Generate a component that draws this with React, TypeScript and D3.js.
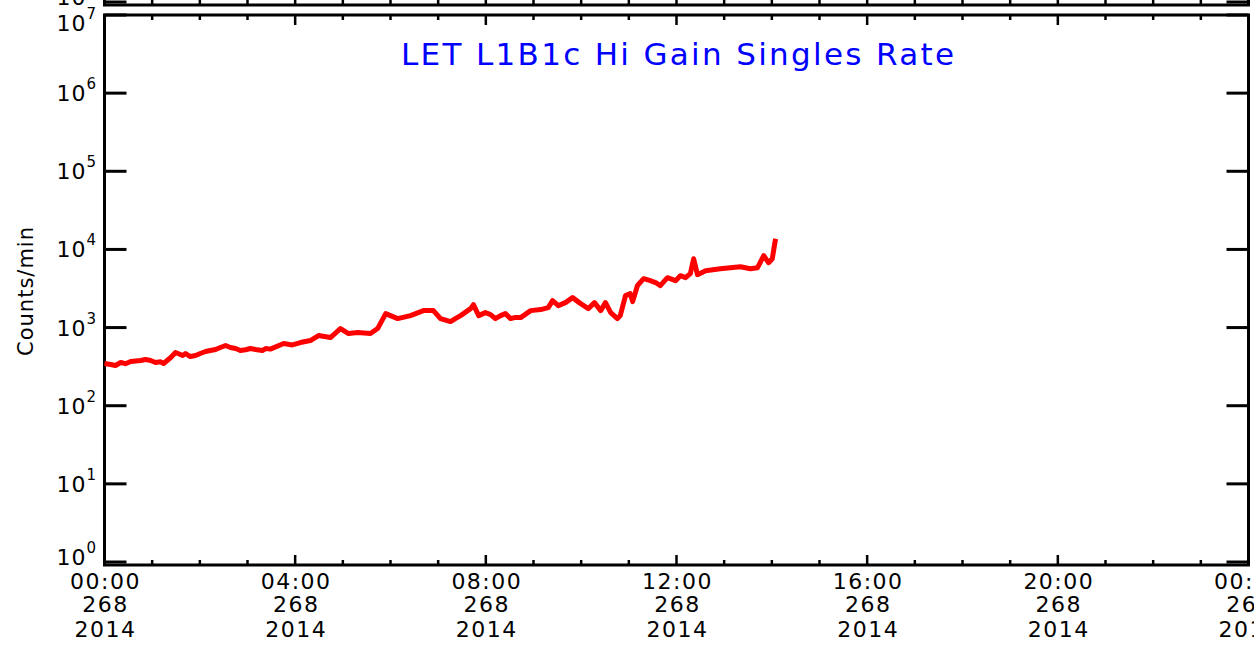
import React from 'react';
import * as d3 from 'd3';

// LET L1B1c hi gain singles, day 268 of 2014 (hours since 00:00, counts/min)
const hours = [
  0, 0.13, 0.23, 0.34, 0.44, 0.55, 0.76, 0.86, 0.97, 1.07, 1.18, 1.24, 1.39, 1.49, 1.64, 1.7,
  1.8, 1.91, 2.01, 2.12, 2.22, 2.33, 2.43, 2.54, 2.64, 2.75, 2.85, 2.96, 3.06, 3.17, 3.31,
  3.38, 3.48, 3.76, 3.94, 4.11, 4.32, 4.49, 4.74, 4.95, 5.12, 5.31, 5.58, 5.73, 5.9, 6.15,
  6.42, 6.69, 6.9, 7.05, 7.26, 7.36, 7.47, 7.68, 7.74, 7.85, 7.99, 8.1, 8.2, 8.31, 8.41,
  8.52, 8.62, 8.73, 8.94, 9.15, 9.31, 9.4, 9.52, 9.67, 9.82, 9.99, 10.15, 10.28, 10.41,
  10.51, 10.62, 10.76, 10.82, 10.93, 11.03, 11.08, 11.18, 11.31, 11.45, 11.56, 11.66, 11.81,
  11.98, 12.08, 12.19, 12.29, 12.36, 12.44, 12.61, 12.92, 13.34, 13.55, 13.7, 13.83, 13.93,
  14.01, 14.06, 14.08,
];
const rates = [
  347, 337, 327, 357, 345, 368, 379, 390, 379, 357, 365, 347, 414, 480, 439, 466,
  426, 439, 466, 494, 508, 524, 555, 589, 555, 539, 508, 520, 539, 524, 508,
  539, 530, 625, 600, 643, 682, 791, 745, 971, 838, 863, 838, 971, 1510, 1303,
  1423, 1648, 1648, 1303, 1193, 1303, 1423, 1749, 1967, 1423, 1554, 1466, 1303, 1423, 1510,
  1303, 1350, 1342, 1648, 1698, 1800, 2213, 1910, 2085, 2416, 2025, 1749, 2085, 1648,
  2085, 1550, 1300, 1423, 2563, 2718, 2148, 3438, 4224, 3983, 3770, 3438, 4350,
  3983, 4610, 4350, 4895, 7606, 4753, 5346, 5669, 6012, 5669, 5837, 8310, 6761,
  7606, 11820, 13700,
];

const majorHours = [0, 4, 8, 12, 16, 20, 24];
const minorHours = d3.range(0, 25);
const hourLabels = ['00:00', '04:00', '08:00', '12:00', '16:00', '20:00', '00:00'];
const dayLabels = ['268', '268', '268', '268', '268', '268', '269'];
const yearLabels = ['2014', '2014', '2014', '2014', '2014', '2014', '2014'];
const decades = [0, 1, 2, 3, 4, 5, 6, 7];

const title = 'LET L1B1c Hi Gain Singles Rate';
const yTitle = 'Counts/min';

const W = 1254;
const H = 645;
const left = 104.5;
const right = 1248.5;
const top = 15;
const bottom = 562;
const frameBottom = 565;
const FONT = 'DejaVu Sans, sans-serif';

const x = d3.scaleLinear().domain([0, 24]).range([left, right]);
const y = d3.scaleLog().domain([1, 1e7]).range([bottom, top]);

const Panel: React.FC<{ dy: number; full: boolean }> = ({ dy, full }) => {
  const pts = hours.map((h, i) => [h, rates[i]] as [number, number]);
  const line = d3.line<[number, number]>()
    .x(d => x(d[0]))
    .y(d => y(d[1]));

  // the panel above only shows its bottom edge, so only its lowest label
  const labelled = full ? decades : [0];

  return (
    <g transform={`translate(0,${dy})`}>
      {/* frame */}
      <rect x={left} y={top} width={right - left} height={frameBottom - top}
        fill="none" stroke="#000" strokeWidth={3} />

      {/* x ticks, bottom and top */}
      {minorHours.map(h => {
        const len = majorHours.includes(h) ? 10 : 5;
        return (
          <g key={`xt${h}`} stroke="#000" strokeWidth={2.5}>
            <line x1={x(h)} x2={x(h)} y1={frameBottom} y2={frameBottom - len} />
            <line x1={x(h)} x2={x(h)} y1={top} y2={top + len} />
          </g>
        );
      })}

      {/* y ticks, both sides */}
      {decades.map(k => (
        <g key={`yt${k}`} stroke="#000" strokeWidth={3}>
          <line x1={left} x2={left + 22} y1={y(10 ** k)} y2={y(10 ** k)} />
          <line x1={right - 22} x2={right} y1={y(10 ** k)} y2={y(10 ** k)} />
        </g>
      ))}

      {/* y labels, kept inside the axis range */}
      {labelled.map(k => {
        const cy = Math.min(Math.max(y(10 ** k), top + 8), frameBottom - 8);
        return (
          <text key={`yl${k}`} x={96} y={cy + 8} textAnchor="end"
            fontFamily={FONT} fontSize={22} fill="#000">
            <tspan letterSpacing={1}>10</tspan>
            <tspan dy={-12} fontSize={15}>{k}</tspan>
          </text>
        );
      })}

      {full && (
        <>
          {majorHours.map((h, i) => (
            <g key={`xl${i}`} fontFamily={FONT} fontSize={22} fill="#000"
              textAnchor="middle" letterSpacing={1.5}>
              <text x={x(h) + 1} y={589}>{hourLabels[i]}</text>
              <text x={x(h) + 1} y={612}>{dayLabels[i]}</text>
              <text x={x(h) + 1} y={637}>{yearLabels[i]}</text>
            </g>
          ))}

          <text transform={`translate(33,291) rotate(-90)`} textAnchor="middle"
            fontFamily={FONT} fontSize={21} letterSpacing={1} fill="#000">
            {yTitle}
          </text>

          <text x={401} y={65} fontFamily={FONT} fontSize={31} fill="#0000ff"
            textLength={553} lengthAdjust="spacing">
            {title}
          </text>

          <path d={line(pts) ?? ''} fill="none" stroke="#ff0000" strokeWidth={5}
            strokeLinejoin="round" />
        </>
      )}
    </g>
  );
};

export default function App() {
  return (
    <svg width={W} height={H} style={{ position: 'absolute', left: 0, top: 0, background: '#fff' }}>
      <rect width={W} height={H} fill="#fff" />
      {/* bottom edge of the panel above */}
      <Panel dy={-560} full={false} />
      <Panel dy={0} full={true} />
    </svg>
  );
}
